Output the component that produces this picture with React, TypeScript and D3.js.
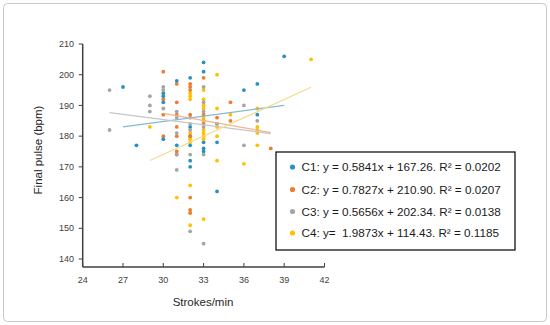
import React from "react";
import * as d3 from "d3";

const seriesNames = ["C1", "C2", "C3", "C4"];
const seriesColors = ["#2a90c4", "#ed7d31", "#a5a5a5", "#ffc000"];
const trendColors = ["#86b9d6", "#f0b48e", "#c6c6c6", "#f2dc92"];

// [strokes/min, final pulse]
const c1Points: [number, number][] = [
  [27, 196], [28, 177],
  [30, 194], [30, 193], [30, 191], [30, 179],
  [31, 198], [31, 177],
  [32, 199], [32, 183], [32, 180], [32, 177], [32, 172], [32, 170],
  [33, 204], [33, 201], [33, 185], [33, 178], [33, 176], [33, 175],
  [34, 184], [34, 178], [34, 162],
  [36, 195], [37, 197], [37, 187], [39, 206],
];
const c2Points: [number, number][] = [
  [30, 201], [30, 192], [30, 187], [30, 180],
  [31, 197], [31, 191], [31, 187], [31, 183], [31, 180], [31, 175], [31, 174],
  [32, 197], [32, 196], [32, 195], [32, 187], [32, 180], [32, 160], [32, 156], [32, 155],
  [33, 199], [33, 187], [33, 184],
  [34, 186], [35, 191], [35, 185], [38, 176],
];
const c3Points: [number, number][] = [
  [26, 195], [26, 182],
  [29, 193], [29, 190], [29, 188],
  [30, 196], [30, 195], [30, 189],
  [31, 188], [31, 186], [31, 181], [31, 174], [31, 169],
  [32, 186], [32, 184], [32, 182], [32, 174], [32, 149],
  [33, 196], [33, 191], [33, 188], [33, 183], [33, 174], [33, 145],
  [34, 184], [36, 190], [36, 177], [37, 185],
];
const c4Points: [number, number][] = [
  [29, 183], [31, 160],
  [32, 194], [32, 193], [32, 192], [32, 181], [32, 179], [32, 178], [32, 164], [32, 155], [32, 151],
  [33, 195], [33, 192], [33, 190], [33, 189], [33, 186],
  [33, 185], [33, 182], [33, 181], [33, 180], [33, 179], [33, 153],
  [34, 200], [34, 189], [34, 183], [34, 180], [34, 172],
  [35, 187], [36, 171],
  [37, 189], [37, 183], [37, 182], [37, 181], [37, 177],
  [41, 205],
];
const allSeries = [c1Points, c2Points, c3Points, c4Points];

// trend lines: slope, intercept, x range
const trendSlopes = [0.5841, -0.7827, -0.5656, 1.9873];
const trendIntercepts = [167.26, 210.9, 202.34, 114.43];
const trendStart = [27, 30, 26, 29];
const trendEnd = [39, 38, 38, 41];

const legendLabels = [
  "C1: y = 0.5841x + 167.26. R\u00B2 = 0.0202",
  "C2: y = 0.7827x + 210.90. R\u00B2 = 0.0207",
  "C3: y = 0.5656x + 202.34. R\u00B2 = 0.0138",
  "C4: y=  1.9873x + 114.43. R\u00B2 = 0.1185",
];

const xTicks = [24, 27, 30, 33, 36, 39, 42];
const yTicks = [140, 150, 160, 170, 180, 190, 200, 210];

const FONT = "'Liberation Sans', Arial, sans-serif";

export default function App() {
  const x = d3.scaleLinear().domain([24, 42]).range([82.7, 324.5]);
  const y = d3.scaleLinear().domain([137.4, 210]).range([267, 44]);

  const axisColor = "#404040";
  const legendX = 276;
  const legendY = 152;
  const rowYs = [167, 189.5, 211.5, 233];

  // interleave series drawing by column so stacked columns show mixed colours
  const flat: { p: [number, number]; si: number; i: number }[] = [];
  allSeries.forEach((pts, si) => pts.forEach((p, i) => flat.push({ p, si, i })));
  flat.sort((a, b) => (a.i - b.i) || (a.si - b.si));

  return (
    <svg
      width={550}
      height={325}
      style={{ position: "absolute", left: 0, top: 0, background: "#fff" }}
      fontFamily={FONT}
    >
      <rect x={3.5} y={3.5} width={543} height={318} rx={4} fill="#fff" stroke="#c8c8c8" strokeWidth={1} />

      {/* axes */}
      <line x1={x(24)} x2={x(24)} y1={y(210)} y2={y(137.4)} stroke={axisColor} strokeWidth={1.5} />
      <line x1={x(24)} x2={x(42)} y1={y(137.4)} y2={y(137.4)} stroke={axisColor} strokeWidth={1.5} />
      {yTicks.map((t) => (
        <g key={"y" + t}>
          <line x1={x(24) - 4} x2={x(24)} y1={y(t)} y2={y(t)} stroke={axisColor} strokeWidth={1} />
          <text x={74} y={y(t) + 3.2} textAnchor="end" fontSize={9} fill="#404040">
            {t}
          </text>
        </g>
      ))}
      {xTicks.map((t) => (
        <g key={"x" + t}>
          <line x1={x(t)} x2={x(t)} y1={y(137.4) - 4} y2={y(137.4)} stroke={axisColor} strokeWidth={1} />
          <text x={x(t)} y={283} textAnchor="middle" fontSize={9} fill="#404040">
            {t}
          </text>
        </g>
      ))}
      <text x={203} y={306} textAnchor="middle" fontSize={11.5} fill="#262626">
        Strokes/min
      </text>
      <text
        transform={`translate(42,150) rotate(-90)`}
        textAnchor="middle"
        fontSize={11.5}
        fill="#262626"
      >
        Final pulse (bpm)
      </text>

      {/* points */}
      {flat.map(({ p, si, i }) => (
        <circle key={si + "-" + i} cx={x(p[0])} cy={y(p[1])} r={1.9} fill={seriesColors[si]} />
      ))}

      {/* trend lines */}
      {trendSlopes.map((m, si) => {
        const xs = [trendStart[si], trendEnd[si]];
        const pathD = d3
          .line<number>()
          .x((d) => x(d))
          .y((d) => y(m * d + trendIntercepts[si]))(xs);
        return (
          <path key={"t" + si} d={pathD || ""} fill="none" stroke={trendColors[si]} strokeWidth={1.3} />
        );
      })}

      {/* legend */}
      <rect x={legendX} y={legendY} width={239} height={98} fill="#fff" stroke="#000" strokeWidth={1.2} />
      {legendLabels.map((lab, i) => (
        <g key={"l" + i}>
          <circle cx={292.5} cy={rowYs[i]} r={2.6} fill={seriesColors[i]} />
          <text x={301.5} y={rowYs[i] + 4.2} fontSize={11.7} fill="#1a1a1a" style={{ whiteSpace: "pre" }}>
            {lab}
          </text>
        </g>
      ))}
    </svg>
  );
}
